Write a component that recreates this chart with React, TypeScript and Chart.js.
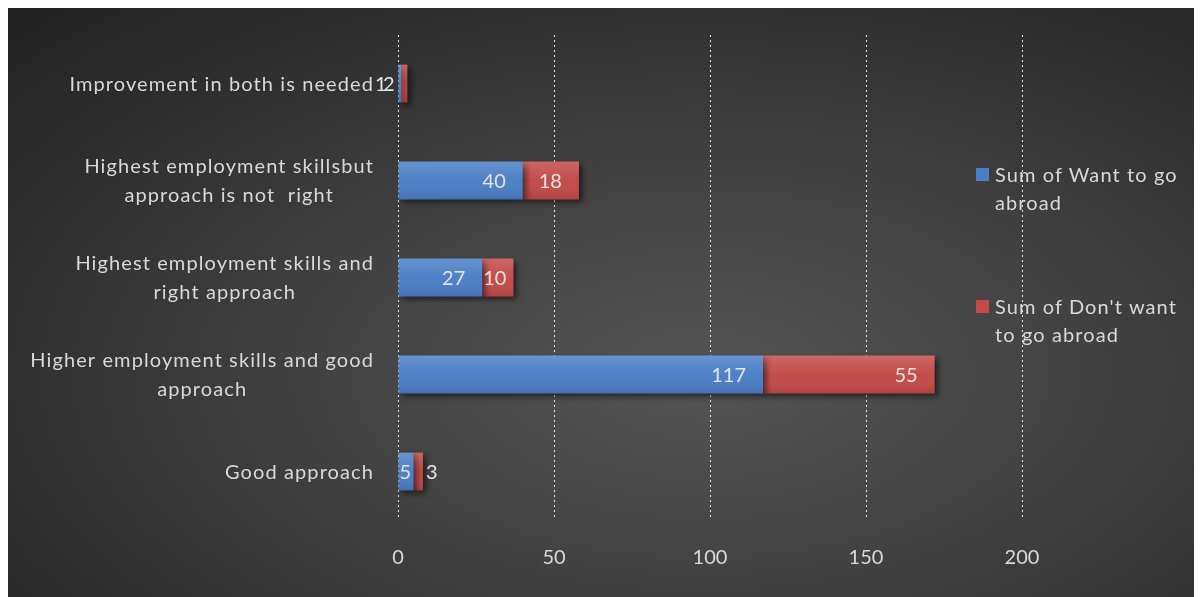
import React, { useEffect, useRef } from "react";
import { Chart, registerables } from "chart.js";

Chart.register(...registerables);

const categories: string[][] = [
  ["Improvement in both is needed"],
  ["Highest employment skillsbut", "approach is not  right"],
  ["Highest employment skills and", "right approach"],
  ["Higher employment skills and good", "approach"],
  ["Good approach"],
];
const wantToGo = [1, 40, 27, 117, 5];
const dontWant = [2, 18, 10, 55, 3];
const xTickStep = 50;
const xMax = 200;
const seriesNames: string[][] = [
  ["Sum of Want to go", "abroad"],
  ["Sum of Don't want", "to go abroad"],
];
const seriesColors = ["#4a7ec6", "#c24a48"];

const FONT = "Lato, 'Open Sans', sans-serif";
const TEXT = "#d9d9d9";
const SPACING = "1.1px";

const barFx = {
  id: "barFx",
  beforeDatasetsDraw(chart: any) {
    const ctx = chart.ctx;
    ctx.save();
    ctx.shadowColor = "rgba(0,0,0,0.6)";
    ctx.shadowBlur = 6;
    ctx.shadowOffsetX = 3;
    ctx.shadowOffsetY = 3;
  },
  afterDatasetsDraw(chart: any) {
    const ctx = chart.ctx;
    ctx.restore();
    chart.data.datasets.forEach((ds: any, di: number) => {
      const meta = chart.getDatasetMeta(di);
      meta.data.forEach((el: any) => {
        const { x, y, base, height } = el.getProps(["x", "y", "base", "height"], true);
        const left = Math.min(x, base);
        const w = Math.abs(x - base);
        const top = y - height / 2;
        const g = ctx.createLinearGradient(0, top, 0, top + height);
        g.addColorStop(0, "rgba(255,255,255,0.16)");
        g.addColorStop(0.5, "rgba(255,255,255,0.02)");
        g.addColorStop(1, "rgba(0,0,0,0.10)");
        ctx.save();
        ctx.fillStyle = g;
        ctx.fillRect(left, top, w, height);
        ctx.restore();
      });
    });
    // data labels
    const xScale = chart.scales.x;
    const axisX = xScale.getPixelForValue(0);
    ctx.save();
    ctx.font = `20px ${FONT}`;
    ctx.fillStyle = "#e4e4e4";
    ctx.textBaseline = "middle";
    ctx.textAlign = "left";
    chart.data.datasets.forEach((ds: any, di: number) => {
      const meta = chart.getDatasetMeta(di);
      meta.data.forEach((el: any, i: number) => {
        const { x, y, base } = el.getProps(["x", "y", "base"], true);
        const text = String(ds.data[i]);
        const tw = ctx.measureText(text).width;
        const w = x - base;
        // total stacked width of this category
        const lastMeta = chart.getDatasetMeta(chart.data.datasets.length - 1);
        const stackEnd = lastMeta.data[i].getProps(["x"], true).x;
        const tiny = stackEnd - axisX < 12;
        let left: number;
        if (tiny) {
          left = di === 0 ? axisX - 23 : axisX - 15;
        } else if (w >= tw + 2) {
          left = x - 17 - tw;
          if (left < base + 1) left = base + 1;
        } else if (di === 0) {
          left = x - 4 - tw / 2;
        } else {
          left = x + 3;
        }
        ctx.fillText(text, left, y + 1);
      });
    });
    ctx.restore();
  },
  afterDraw(chart: any) {
    const ctx = chart.ctx;
    const yScale = chart.scales.y;
    ctx.save();
    ctx.font = `20px ${FONT}`;
    try {
      (ctx as any).letterSpacing = SPACING;
    } catch (e) {}
    ctx.fillStyle = TEXT;
    ctx.textAlign = "center";
    ctx.textBaseline = "alphabetic";
    const rightEdge = 366;
    const lineH = 29.5;
    (chart.data.labels as string[][]).forEach((lines, i) => {
      const cy = yScale.getPixelForTick(i);
      const maxW = Math.max(...lines.map((l) => ctx.measureText(l).width));
      const cx = rightEdge - maxW / 2;
      const n = lines.length;
      lines.forEach((l, k) => {
        const by = cy + 7 + (k - (n - 1) / 2) * lineH;
        ctx.fillText(l, cx, by);
      });
    });
    ctx.restore();
  },
};

export default function App() {
  const ref = useRef<HTMLCanvasElement | null>(null);
  useEffect(() => {
    if (!ref.current) return;
    const chart = new Chart(ref.current, {
      type: "bar",
      data: {
        labels: categories as any,
        datasets: [
          {
            label: seriesNames[0].join(" "),
            data: wantToGo,
            backgroundColor: seriesColors[0],
            barPercentage: 0.39,
            categoryPercentage: 1,
          },
          {
            label: seriesNames[1].join(" "),
            data: dontWant,
            backgroundColor: seriesColors[1],
            barPercentage: 0.39,
            categoryPercentage: 1,
          },
        ],
      },
      options: {
        indexAxis: "y",
        responsive: false,
        animation: false,
        maintainAspectRatio: false,
        layout: { padding: { top: 27, right: 180, left: 0, bottom: 0 } },
        plugins: { legend: { display: false }, tooltip: { enabled: false } },
        scales: {
          x: {
            stacked: true,
            min: 0,
            max: xMax,
            ticks: {
              stepSize: xTickStep,
              color: TEXT,
              font: { family: FONT, size: 20 },
              padding: 26,
            },
            grid: {
              color: "rgba(255,255,255,0.85)",
              drawTicks: false,
              lineWidth: 1,
            },
            border: { display: false, dash: [2, 3] },
            afterFit: (s: any) => {
              s.height = 78;
            },
          },
          y: {
            stacked: true,
            ticks: { display: false },
            grid: { display: false },
            border: { display: false },
            afterFit: (s: any) => {
              s.width = 390;
            },
          },
        },
      },
      plugins: [barFx],
    });
    return () => chart.destroy();
  }, []);

  const legendTops = [152, 284];
  return (
    <div
      style={{
        position: "relative",
        width: 1194,
        height: 590,
        background:
          "radial-gradient(ellipse farthest-corner at 58% 62%, #545454 0%, #444 35%, #2e2e2e 75%, #222 100%)",
        fontFamily: FONT,
      }}
    >
      <canvas ref={ref} width={1194} height={590} style={{ display: "block", width: 1194, height: 590 }} />
      {seriesNames.map((lines, i) => (
        <div
          key={i}
          style={{
            position: "absolute",
            left: 968,
            top: legendTops[i],
            display: "flex",
            alignItems: "flex-start",
          }}
        >
          <div
            style={{
              width: 13,
              height: 13,
              marginTop: 8,
              background: seriesColors[i],
              flex: "none",
            }}
          />
          <div
            style={{
              marginLeft: 6,
              color: TEXT,
              fontSize: 20,
              lineHeight: "28px",
              letterSpacing: SPACING,
              whiteSpace: "nowrap",
            }}
          >
            {lines.map((l, k) => (
              <div key={k}>{l}</div>
            ))}
          </div>
        </div>
      ))}
    </div>
  );
}
